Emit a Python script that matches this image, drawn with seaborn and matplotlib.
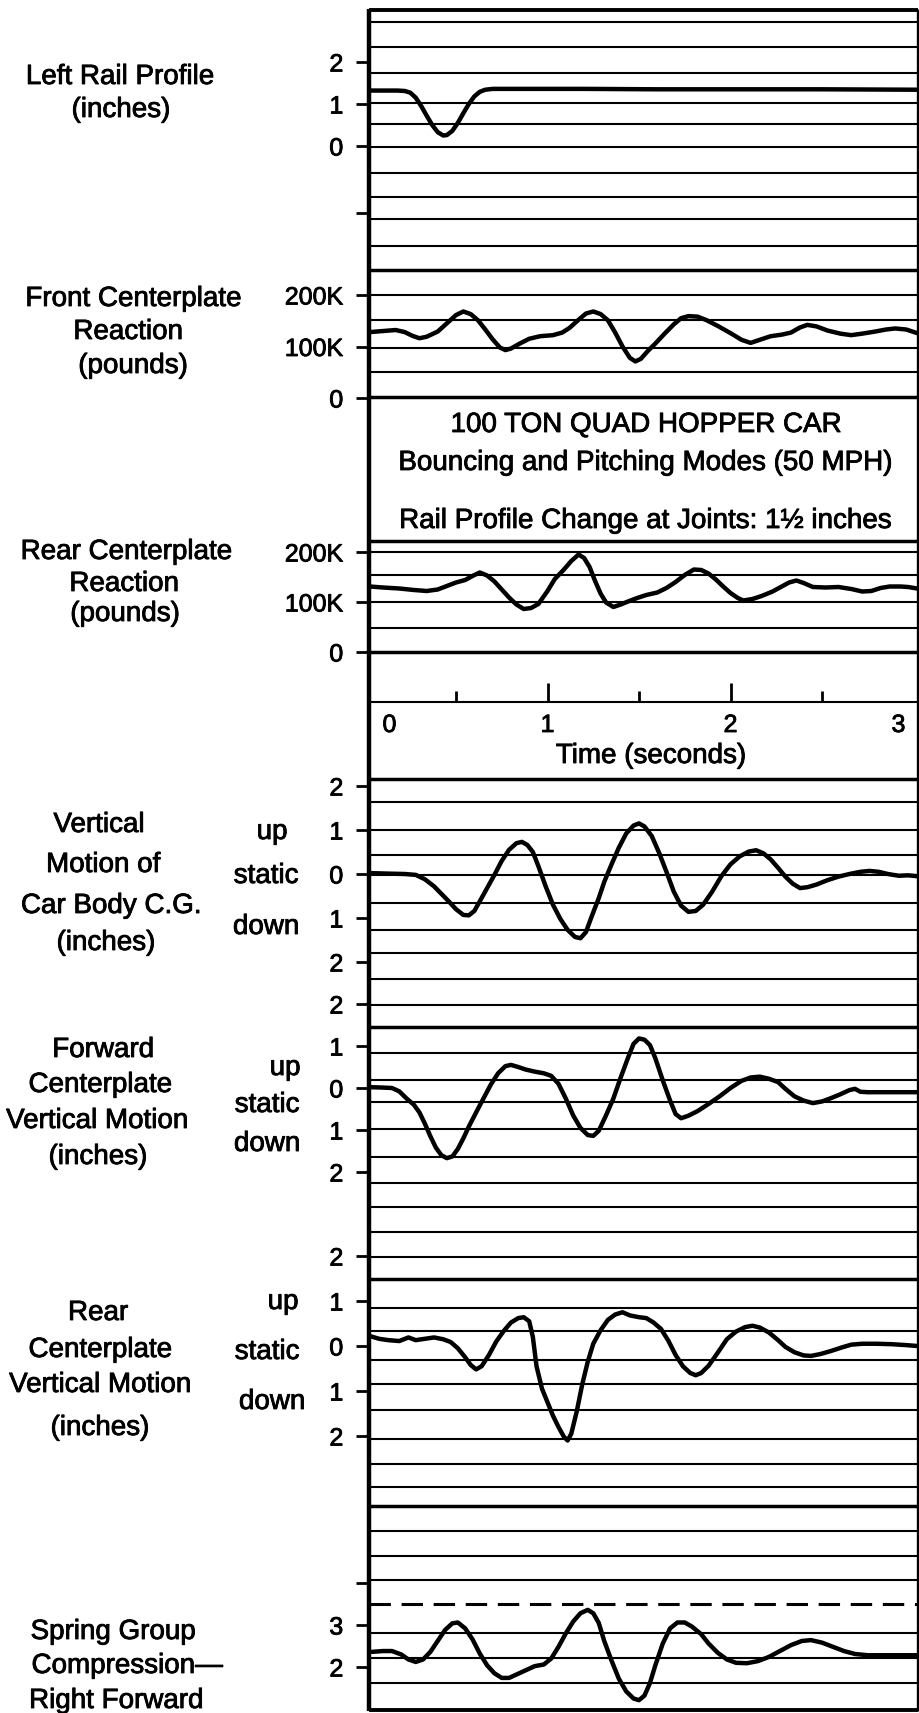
import matplotlib
matplotlib.use("Agg")
import matplotlib.pyplot as plt
import matplotlib.patheffects as pe
import seaborn as sns

# ---------------------------------------------------------------- data
# Left rail profile (inches) against time (s)
rail_t = [0.03, 0.10, 0.18, 0.22, 0.25, 0.28, 0.31, 0.34, 0.37, 0.40, 0.43, 0.45,
          0.48, 0.51, 0.54, 0.57, 0.60, 0.63, 0.66, 0.70, 0.80, 1.20, 1.60, 2.00,
          2.50, 3.02]
rail_in = [1.32, 1.32, 1.32, 1.31, 1.27, 1.15, 0.95, 0.72, 0.50, 0.33, 0.25, 0.26,
           0.36, 0.55, 0.78, 1.00, 1.18, 1.29, 1.34, 1.36, 1.36, 1.36, 1.35, 1.35,
           1.35, 1.34]

# Front centerplate reaction (thousand pounds)
front_t = [0.03, 0.10, 0.17, 0.22, 0.26, 0.30, 0.34, 0.40, 0.45, 0.50, 0.54, 0.58,
           0.62, 0.66, 0.70, 0.74, 0.77, 0.80, 0.85, 0.90, 0.96, 1.03, 1.08, 1.12,
           1.17, 1.21, 1.25, 1.29, 1.33, 1.37, 1.41, 1.45, 1.48, 1.51, 1.55, 1.59,
           1.64, 1.69, 1.73, 1.77, 1.82, 1.87, 1.93, 2.00, 2.06, 2.11, 2.16, 2.22,
           2.28, 2.33, 2.38, 2.42, 2.47, 2.53, 2.60, 2.66, 2.72, 2.79, 2.85, 2.90,
           2.96, 3.02]
front_k = [128, 130, 132, 128, 121, 116, 119, 129, 145, 161, 168, 163,
           151, 133, 114, 98, 93, 96, 106, 115, 120, 122, 127, 136,
           152, 164, 168, 163, 151, 127, 100, 78, 71, 76, 92, 106,
           125, 143, 155, 159, 158, 151, 140, 126, 113, 107, 113, 120,
           123, 127, 137, 142, 139, 131, 125, 122, 125, 129, 133, 135,
           133, 126]

# Rear centerplate reaction (thousand pounds)
rear_t = [0.03, 0.10, 0.19, 0.27, 0.34, 0.40, 0.45, 0.50, 0.55, 0.59, 0.63, 0.67,
          0.71, 0.75, 0.79, 0.83, 0.87, 0.91, 0.95, 1.00, 1.04, 1.09, 1.13, 1.17,
          1.20, 1.23, 1.26, 1.29, 1.32, 1.36, 1.40, 1.44, 1.49, 1.54, 1.60, 1.65,
          1.70, 1.75, 1.80, 1.84, 1.88, 1.92, 1.96, 2.00, 2.04, 2.07, 2.12, 2.17,
          2.23, 2.28, 2.32, 2.36, 2.40, 2.45, 2.52, 2.59, 2.66, 2.72, 2.77, 2.82,
          2.87, 2.93, 2.97, 3.02]
rear_k = [131, 129, 127, 124, 122, 125, 132, 139, 144, 152, 159, 153,
          141, 125, 109, 95, 86, 88, 96, 122, 146, 165, 182, 195,
          188, 170, 142, 117, 99, 90, 95, 101, 108, 114, 119, 128,
          140, 154, 165, 164, 157, 145, 131, 118, 108, 103, 106, 112,
          121, 131, 139, 143, 138, 130, 129, 130, 126, 121, 122, 128,
          131, 131, 130, 127]

# Vertical motion of car body C.G. (inches, up positive)
cg_t = [0.03, 0.12, 0.22, 0.28, 0.33, 0.38, 0.42, 0.46, 0.50, 0.54, 0.57, 0.60,
        0.63, 0.67, 0.71, 0.75, 0.79, 0.83, 0.86, 0.89, 0.92, 0.95, 0.99, 1.03,
        1.07, 1.11, 1.15, 1.18, 1.21, 1.24, 1.28, 1.31, 1.35, 1.39, 1.43, 1.47,
        1.50, 1.53, 1.57, 1.61, 1.65, 1.69, 1.73, 1.77, 1.81, 1.85, 1.90, 1.95,
        2.00, 2.05, 2.10, 2.14, 2.18, 2.22, 2.26, 2.30, 2.34, 2.38, 2.42, 2.47,
        2.53, 2.59, 2.65, 2.71, 2.76, 2.81, 2.86, 2.92, 2.97, 3.02]
cg_in = [0.02, 0.01, 0.00, -0.02, -0.12, -0.28, -0.45, -0.62, -0.80, -0.93, -0.94, -0.84,
         -0.62, -0.32, -0.02, 0.30, 0.55, 0.70, 0.73, 0.66, 0.50, 0.18, -0.28, -0.70,
         -1.02, -1.27, -1.43, -1.46, -1.32, -0.98, -0.55, -0.18, 0.22, 0.60, 0.92, 1.10,
         1.15, 1.08, 0.86, 0.48, 0.05, -0.40, -0.72, -0.86, -0.84, -0.70, -0.40, -0.05,
         0.22, 0.40, 0.51, 0.54, 0.47, 0.33, 0.14, -0.06, -0.22, -0.32, -0.30, -0.24,
         -0.14, -0.06, 0.00, 0.05, 0.07, 0.05, 0.00, -0.04, -0.03, -0.05]

# Forward centerplate vertical motion (inches, up positive)
fwd_t = [0.03, 0.10, 0.15, 0.19, 0.23, 0.27, 0.30, 0.33, 0.36, 0.39, 0.42, 0.45,
         0.48, 0.51, 0.54, 0.57, 0.61, 0.65, 0.69, 0.73, 0.77, 0.80, 0.84, 0.88,
         0.93, 0.98, 1.02, 1.06, 1.10, 1.14, 1.18, 1.22, 1.25, 1.28, 1.32, 1.36,
         1.40, 1.44, 1.47, 1.50, 1.53, 1.56, 1.59, 1.63, 1.67, 1.70, 1.73, 1.77,
         1.82, 1.88, 1.94, 2.00, 2.06, 2.11, 2.16, 2.21, 2.26, 2.30, 2.35, 2.40,
         2.45, 2.50, 2.55, 2.60, 2.65, 2.68, 2.71, 2.75, 2.85, 2.95, 3.02]
fwd_in = [0.02, 0.01, 0.00, -0.08, -0.25, -0.40, -0.58, -0.85, -1.15, -1.42, -1.60, -1.67,
          -1.63, -1.45, -1.20, -0.92, -0.58, -0.25, 0.08, 0.35, 0.52, 0.55, 0.50, 0.44,
          0.39, 0.35, 0.29, 0.10, -0.25, -0.65, -0.95, -1.12, -1.14, -1.02, -0.65, -0.25,
          0.25, 0.72, 1.05, 1.18, 1.15, 1.02, 0.70, 0.18, -0.30, -0.62, -0.72, -0.66,
          -0.55, -0.38, -0.20, 0.00, 0.17, 0.25, 0.27, 0.22, 0.14, -0.02, -0.20, -0.30,
          -0.36, -0.32, -0.24, -0.15, -0.05, -0.02, -0.09, -0.10, -0.10, -0.10, -0.10]

# Rear centerplate vertical motion (inches, up positive)
rvert_t = [0.03, 0.08, 0.13, 0.19, 0.24, 0.28, 0.33, 0.38, 0.43, 0.47, 0.51, 0.55,
           0.58, 0.61, 0.64, 0.68, 0.72, 0.76, 0.80, 0.84, 0.87, 0.90, 0.92, 0.94,
           0.97, 1.00, 1.03, 1.06, 1.09, 1.11, 1.13, 1.16, 1.19, 1.22, 1.25, 1.29,
           1.33, 1.37, 1.41, 1.45, 1.50, 1.54, 1.58, 1.62, 1.66, 1.70, 1.74, 1.78,
           1.81, 1.84, 1.88, 1.93, 1.98, 2.03, 2.08, 2.12, 2.16, 2.21, 2.26, 2.30,
           2.35, 2.40, 2.44, 2.49, 2.55, 2.61, 2.66, 2.72, 2.80, 2.88, 2.96, 3.02]
rvert_in = [0.22, 0.16, 0.13, 0.11, 0.19, 0.13, 0.16, 0.19, 0.15, 0.09, -0.05, -0.25,
            -0.42, -0.52, -0.45, -0.20, 0.10, 0.33, 0.52, 0.62, 0.64, 0.55, 0.20, -0.45,
            -0.95, -1.25, -1.55, -1.80, -2.02, -2.10, -1.95, -1.45, -0.85, -0.35, 0.05, 0.35,
            0.58, 0.70, 0.75, 0.68, 0.64, 0.62, 0.52, 0.38, 0.12, -0.20, -0.45, -0.60,
            -0.65, -0.60, -0.44, -0.15, 0.15, 0.32, 0.42, 0.45, 0.41, 0.30, 0.13, -0.02,
            -0.14, -0.21, -0.22, -0.18, -0.11, -0.03, 0.03, 0.05, 0.05, 0.04, 0.02, 0.00]

# Spring group compression, right forward
spring_t = [0.04, 0.10, 0.15, 0.20, 0.24, 0.28, 0.32, 0.36, 0.40, 0.44, 0.48, 0.51,
            0.55, 0.59, 0.63, 0.67, 0.71, 0.75, 0.79, 0.83, 0.88, 0.93, 0.98, 1.02,
            1.06, 1.10, 1.14, 1.18, 1.22, 1.25, 1.28, 1.31, 1.35, 1.39, 1.43, 1.47,
            1.50, 1.53, 1.56, 1.59, 1.63, 1.67, 1.71, 1.75, 1.79, 1.84, 1.88, 1.93,
            1.98, 2.03, 2.09, 2.15, 2.21, 2.27, 2.33, 2.39, 2.44, 2.50, 2.56, 2.62,
            2.68, 2.75, 2.85, 2.95, 3.02]
spring_val = [2.36, 2.38, 2.38, 2.30, 2.18, 2.12, 2.18, 2.36, 2.62, 2.88, 3.04, 3.06,
              2.92, 2.66, 2.32, 2.04, 1.85, 1.74, 1.74, 1.82, 1.92, 2.02, 2.06, 2.20,
              2.48, 2.80, 3.08, 3.28, 3.36, 3.28, 3.05, 2.62, 2.15, 1.72, 1.42, 1.25,
              1.21, 1.32, 1.62, 2.05, 2.56, 2.92, 3.06, 3.06, 2.96, 2.78, 2.56, 2.34,
              2.18, 2.10, 2.09, 2.14, 2.24, 2.38, 2.52, 2.62, 2.64, 2.58, 2.48, 2.38,
              2.31, 2.28, 2.28, 2.28, 2.28]
spring_limit = 3.5

# Axis ticks and their labels
reaction_ticks = [200, 100, 0]
reaction_labels = ["200K", "100K", "0"]
motion_ticks = [2, 1, 0, -1, -2]
motion_labels = ["2", "1", "0", "1", "2"]
rail_ticks = [2, 1, 0, -1.6]
rail_labels = ["2", "1", "0", ""]
spring_ticks = [4, 3, 2]
spring_labels = ["", "3", "2"]
time_major = [0, 1, 2, 3]
time_minor = [0.5, 1.5, 2.5]

# ---------------------------------------------------------------- layout (pixels)
W, H = 920, 1713
FRAME_L, FRAME_R, FRAME_T, FRAME_B = 369, 918, 10, 1710
T0_PX, PX_PER_S = 364.5, 183.0

RULES_THIN = [22, 47, 73, 103, 124, 147, 173, 197, 219, 246, 295, 320, 348, 372,
              552, 575, 602, 628, 702,
              802, 830, 855, 875, 903, 930, 953, 979, 1005,
              1053, 1080, 1102, 1129, 1157, 1183, 1207, 1232, 1257,
              1308, 1331, 1360, 1384, 1410, 1439, 1464, 1487,
              1531, 1556, 1580, 1633, 1658, 1683]
RULES_THICK = [270, 397, 541, 652, 779, 1027, 1279, 1506]

TEXT = "black"
sns.set_theme(style="white")
plt.rcParams["font.family"] = ["Liberation Sans", "DejaVu Sans"]
LABEL_FS = 20
TICK_FS = 18
INK = [pe.withStroke(linewidth=0.6, foreground="black")]

fig = plt.figure(figsize=(W / 100, H / 100), dpi=100)
fig.patch.set_facecolor("white")

# Pixel canvas for the ruled sheet, frame and captions
bg = fig.add_axes([0, 0, 1, 1])
bg.set_xlim(0, W)
bg.set_ylim(H, 0)
bg.axis("off")

bg.hlines(RULES_THIN, FRAME_L, FRAME_R, color="black", lw=1.5)
bg.hlines(RULES_THICK, FRAME_L, FRAME_R, color="black", lw=2.5)
bg.hlines([FRAME_T, FRAME_B], FRAME_L, FRAME_R, color="black", lw=2.8)
bg.vlines([FRAME_L], FRAME_T - 1, FRAME_B + 1, color="black", lw=3.2)
bg.vlines([FRAME_R], FRAME_T - 1, FRAME_B + 1, color="black", lw=2.4)

captions = [
    ("Left Rail Profile", 120, 77), ("(inches)", 121, 110),
    ("Front Centerplate", 133, 299), ("Reaction", 128, 332), ("(pounds)", 133, 366),
    ("Rear Centerplate", 126, 552), ("Reaction", 124, 584), ("(pounds)", 125, 614),
    ("Vertical", 99, 825), ("Motion of", 103, 865), ("Car Body C.G.", 111, 906),
    ("(inches)", 106, 943),
    ("up", 272, 832), ("static", 266, 876), ("down", 266, 927),
    ("Forward", 103, 1050), ("Centerplate", 100, 1085), ("Vertical Motion", 97, 1121),
    ("(inches)", 98, 1157),
    ("up", 285, 1068), ("static", 267, 1105), ("down", 267, 1144),
    ("Rear", 98, 1313), ("Centerplate", 100, 1350), ("Vertical Motion", 100, 1385),
    ("(inches)", 100, 1428),
    ("up", 283, 1302), ("static", 267, 1352), ("down", 272, 1402),
    ("Spring Group", 113, 1632), ("Compression\u2014", 127, 1666),
    ("Right Forward", 116, 1701),
    ("100 TON QUAD HOPPER CAR", 646, 425),
    ("Bouncing and Pitching Modes (50 MPH)", 645, 463),
    ("Rail Profile Change at Joints: 1\u00bd inches", 645, 521),
    ("Time (seconds)", 651, 756),
]
for txt, x, y in captions:
    bg.text(x, y, txt, ha="center", va="center", fontsize=LABEL_FS, color=TEXT,
            path_effects=INK)

xlim = ((FRAME_L - T0_PX) / PX_PER_S, (FRAME_R - T0_PX) / PX_PER_S)


def panel(top, bottom, zero_px, px_per_unit, ticks, labels):
    ax = fig.add_axes([FRAME_L / W, 1 - bottom / H,
                       (FRAME_R - FRAME_L) / W, (bottom - top) / H])
    ax.set_xlim(*xlim)
    ax.set_ylim((zero_px - bottom) / px_per_unit, (zero_px - top) / px_per_unit)
    ax.patch.set_alpha(0)
    for s in ax.spines.values():
        s.set_visible(False)
    ax.grid(False)
    ax.set_xticks([])
    ax.set_yticks(ticks, labels)
    ax.tick_params(axis="y", direction="out", length=9.5, width=2.0, color="black",
                   pad=9, labelsize=TICK_FS, labelcolor=TEXT, left=True)
    for lab in ax.get_yticklabels():
        lab.set_path_effects(INK)
    return ax


def trace(ax, t, v):
    sns.lineplot(x=t, y=v, ax=ax, color="black", linewidth=3.2, errorbar=None,
                 solid_joinstyle="round", solid_capstyle="round")
    ax.set_xlabel("")
    ax.set_ylabel("")


ax_rail = panel(9, 250, 146, 42.0, rail_ticks, rail_labels)
trace(ax_rail, rail_t, rail_in)

ax_front = panel(250, 400, 398, 0.515, reaction_ticks, reaction_labels)
trace(ax_front, front_t, front_k)

ax_rear = panel(538, 655, 652, 0.5, reaction_ticks, reaction_labels)
trace(ax_rear, rear_t, rear_k)

ax_cg = panel(776, 1000, 874, 44.0, motion_ticks, motion_labels)
trace(ax_cg, cg_t, cg_in)

ax_fwd = panel(1000, 1200, 1088, 42.0, motion_ticks, motion_labels)
trace(ax_fwd, fwd_t, fwd_in)

ax_rv = panel(1200, 1500, 1346, 45.0, motion_ticks, motion_labels)
trace(ax_rv, rvert_t, rvert_in)

ax_spring = panel(1504, 1712, 1625 + 3 * 42.0, 42.0, spring_ticks, spring_labels)
trace(ax_spring, spring_t, spring_val)
ax_spring.axhline(spring_limit, color="black", lw=2.2, linestyle=(0, (7, 3.5)))

# Time scale: ticks rise from the ruled line under the rear reaction trace
ax_time = fig.add_axes([FRAME_L / W, 1 - 702 / H, (FRAME_R - FRAME_L) / W, 50 / H])
ax_time.set_xlim(*xlim)
ax_time.set_ylim(0, 1)
ax_time.patch.set_alpha(0)
for s in ax_time.spines.values():
    s.set_visible(False)
ax_time.grid(False)
ax_time.set_yticks([])
ax_time.set_xticks([1, 2], ["", ""])
ax_time.set_xticks(time_minor, minor=True)
ax_time.tick_params(axis="x", which="major", direction="in", length=14, width=2.0,
                    color="black", bottom=True)
ax_time.tick_params(axis="x", which="minor", direction="in", length=8, width=2.0,
                    color="black", bottom=True)

# Time labels; the end labels sit just inside the frame
label_offsets = {0: 25, 1: 0, 2: 0, 3: -15}
for t in time_major:
    bg.text(T0_PX + t * PX_PER_S + label_offsets[t], 725, str(t), ha="center",
            va="center", fontsize=TICK_FS, color=TEXT, path_effects=INK)

fig.savefig("out.png", dpi=100, facecolor="white")
